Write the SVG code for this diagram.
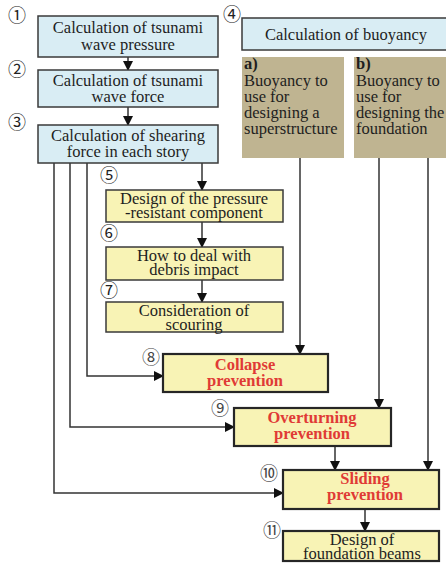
<svg xmlns="http://www.w3.org/2000/svg" width="446" height="563" viewBox="0 0 446 563">
<style>
.blue{fill:#d9edf4;stroke:#3a3a3a;stroke-width:1.5}
.yel{fill:#f8f3b5;stroke:#3a3a3a;stroke-width:1.5}
.yel2{fill:#f8f3b5;stroke:#262626;stroke-width:2.2}
.tan{fill:#bfb491;stroke:none}
.t{font-family:"Liberation Serif","Times New Roman",serif;font-size:16.5px;fill:#1e1e1e;text-anchor:middle}
.tl{font-family:"Liberation Serif","Times New Roman",serif;font-size:16.5px;fill:#1e1e1e}
.r{font-family:"Liberation Serif","Times New Roman",serif;font-size:16.5px;font-weight:bold;fill:#e03a36;text-anchor:middle}
.n{font-family:"Noto Sans CJK JP","DejaVu Sans",sans-serif;font-size:18px;fill:#222;text-anchor:middle}
.n2{font-family:"Noto Sans CJK JP","DejaVu Sans",sans-serif;font-size:18px;fill:#444;text-anchor:middle}
.c{fill:none;stroke:#333;stroke-width:1.5}
</style>
<defs>
<marker id="ah" markerWidth="10" markerHeight="10" refX="9" refY="5" orient="auto" markerUnits="userSpaceOnUse">
<path d="M0,0 L10,5 L0,10 Z" fill="#111"/>
</marker>
</defs>

<g id="connectors">
<path class="c" d="M128,57 V70" marker-end="url(#ah)"/>
<path class="c" d="M128,107 V125" marker-end="url(#ah)"/>
<path class="c" d="M202,163 V190" marker-end="url(#ah)"/>
<path class="c" d="M202,222 V247" marker-end="url(#ah)"/>
<path class="c" d="M202,280 V302" marker-end="url(#ah)"/>
<path class="c" d="M87,163 V376 H163" marker-end="url(#ah)"/>
<path class="c" d="M70,163 V427 H234" marker-end="url(#ah)"/>
<path class="c" d="M54,163 V493 H283" marker-end="url(#ah)"/>
<path class="c" d="M300,158 V354" marker-end="url(#ah)"/>
<path class="c" d="M379,158 V408" marker-end="url(#ah)"/>
<path class="c" d="M428,158 V470" marker-end="url(#ah)"/>
<path class="c" d="M335,446 V470" marker-end="url(#ah)"/>
<path class="c" d="M365,509 V531" marker-end="url(#ah)"/>
</g>

<g id="n1">
<rect class="blue" x="38" y="16" width="180" height="41"/>
<text class="n" x="17" y="22">①</text>
<text class="t" x="128" y="33">Calculation of tsunami</text>
<text class="t" x="128" y="50">wave pressure</text>
</g>
<g id="n2">
<rect class="blue" x="38" y="70" width="180" height="37"/>
<text class="n" x="17" y="76">②</text>
<text class="t" x="128" y="86">Calculation of tsunami</text>
<text class="t" x="128" y="102">wave force</text>
</g>
<g id="n3">
<rect class="blue" x="38" y="125" width="180" height="38"/>
<text class="n" x="17" y="129">③</text>
<text class="t" x="128" y="141">Calculation of shearing</text>
<text class="t" x="128" y="157">force in each story</text>
</g>
<g id="n4">
<rect class="blue" x="242" y="18" width="210" height="32"/>
<text class="n" x="232" y="21">④</text>
<text class="t" x="346" y="40">Calculation of buoyancy</text>
</g>
<g id="na">
<rect class="tan" x="242" y="57" width="102" height="101"/>
<text class="tl" x="244" y="69" font-weight="bold">a)</text>
<text class="tl" x="244" y="86">Buoyancy to</text>
<text class="tl" x="244" y="102">use for</text>
<text class="tl" x="244" y="118">designing a</text>
<text class="tl" x="244" y="134">superstructure</text>
</g>
<g id="nb">
<rect class="tan" x="354" y="57" width="100" height="101"/>
<text class="tl" x="356" y="69" font-weight="bold">b)</text>
<text class="tl" x="356" y="86">Buoyancy to</text>
<text class="tl" x="356" y="102">use for</text>
<text class="tl" x="356" y="118">designing the</text>
<text class="tl" x="356" y="134">foundation</text>
</g>
<g id="n5">
<rect class="yel" x="106" y="190" width="177" height="32"/>
<text class="n" x="109" y="182">⑤</text>
<text class="t" x="194" y="204">Design of the pressure</text>
<text class="t" x="194" y="218">-resistant component</text>
</g>
<g id="n6">
<rect class="yel" x="106" y="247" width="177" height="33"/>
<text class="n" x="109" y="240">⑥</text>
<text class="t" x="194" y="261">How to deal with</text>
<text class="t" x="194" y="275">debris impact</text>
</g>
<g id="n7">
<rect class="yel" x="106" y="302" width="177" height="30"/>
<text class="n" x="109" y="297">⑦</text>
<text class="t" x="194" y="316">Consideration of</text>
<text class="t" x="194" y="330">scouring</text>
</g>
<g id="n8">
<rect class="yel2" x="163" y="354" width="165" height="38"/>
<text class="n2" x="151" y="364">⑧</text>
<text class="r" x="245" y="370">Collapse</text>
<text class="r" x="245" y="386">prevention</text>
</g>
<g id="n9">
<rect class="yel2" x="234" y="408" width="157" height="38"/>
<text class="n2" x="220" y="415">⑨</text>
<text class="r" x="312" y="423">Overturning</text>
<text class="r" x="312" y="439">prevention</text>
</g>
<g id="n10">
<rect class="yel2" x="283" y="470" width="156" height="39"/>
<text class="n2" x="269" y="480">⑩</text>
<text class="r" x="365" y="484">Sliding</text>
<text class="r" x="365" y="500">prevention</text>
</g>
<g id="n11">
<rect class="yel2" x="283" y="531" width="156" height="30"/>
<text class="n2" x="272" y="537">⑪</text>
<text class="t" x="362" y="545">Design of</text>
<text class="t" x="362" y="559">foundation beams</text>
</g>
</svg>
